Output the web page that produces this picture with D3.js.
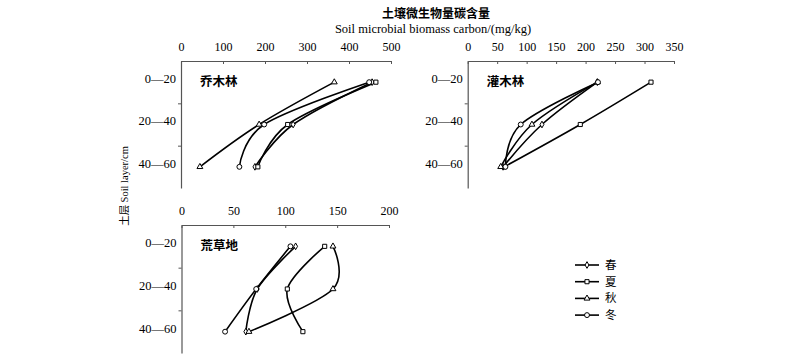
<!DOCTYPE html>
<html>
<head>
<meta charset="utf-8">
<script src="https://cdn.jsdelivr.net/npm/d3@7"></script>
<style>
  body { margin: 0; background: #fff; }
  svg { display: block; }
</style>
</head>
<body>
<div id="chart"></div>
<script>
// ---- data ----
const layers = ["0—20", "20—40", "40—60"];
const layerMid = [10, 30, 50];
const seasons = ["春", "夏", "秋", "冬"];

// rows: 春, 夏, 秋, 冬 ; columns: 0-20, 20-40, 40-60 (mg/kg)
const arborValues = [[455, 267, 176], [464, 254, 183], [365, 186, 45], [448, 198, 139]];
const shrubValues = [[220, 126, 60], [311, 191, 62], [220, 109, 56], [221, 90, 64]];
const grassValues = [[110, 73, 62], [138, 102, 117], [146, 146, 65], [105, 72, 42]];

const panelNames = ["乔木林", "灌木林", "荒草地"];
const xTicksArbor = [0, 100, 200, 300, 400, 500];
const xTicksShrub = [0, 50, 100, 150, 200, 250, 300, 350];
const xTicksGrass = [0, 50, 100, 150, 200];

// ---- layout ----
const width = 800, height = 362;
const serif = "'Liberation Serif', 'DejaVu Serif', serif";
const cjk = "'Noto Sans CJK SC', sans-serif";
const axisColor = "#555";

const svg = d3.select("#chart").append("svg")
  .attr("width", width)
  .attr("height", height);

const panels = [
  { name: panelNames[0], values: arborValues, ticks: xTicksArbor, x0: 181, x1: 391, y0: 61, y1: 188 },
  { name: panelNames[1], values: shrubValues, ticks: xTicksShrub, x0: 467.7, x1: 674, y0: 61, y1: 188 },
  { name: panelNames[2], values: grassValues, ticks: xTicksGrass, x0: 181.5, x1: 389, y0: 225, y1: 353 }
];

const symbolTypes = [d3.symbolDiamond, d3.symbolSquare, d3.symbolTriangle, d3.symbolCircle];
const symbolSizes = [13, 17, 15, 19];

function marker(g, i, x, y) {
  g.append("path")
    .attr("d", d3.symbol().type(symbolTypes[i]).size(symbolSizes[i])())
    .attr("transform", `translate(${x},${y})`)
    .attr("fill", "#fff")
    .attr("stroke", "#000")
    .attr("stroke-width", 1);
}

panels.forEach(p => {
  const g = svg.append("g");
  const x = d3.scaleLinear().domain([0, d3.max(p.ticks)]).range([p.x0, p.x1]);
  const y = d3.scaleLinear().domain([0, 60]).range([p.y0, p.y1]);

  // top x axis, ticks pointing inside
  const xAxis = d3.axisTop(x).tickValues(p.ticks).tickSizeInner(-3).tickSizeOuter(0).tickPadding(10);
  const gx = g.append("g").attr("transform", `translate(0,${p.y0})`).call(xAxis);
  gx.select(".domain").attr("stroke", axisColor).attr("stroke-width", 1.2);
  gx.selectAll(".tick line").attr("stroke", axisColor);
  gx.selectAll(".tick text").attr("font-family", serif).attr("font-size", 12).attr("fill", "#000");

  // left y axis: minor ticks between layers, labels at layer midpoints
  const gy = g.append("g").attr("transform", `translate(${p.x0},0)`)
    .call(d3.axisLeft(y).tickValues([20, 40]).tickSizeInner(3).tickSizeOuter(0).tickFormat(""));
  gy.select(".domain").attr("stroke", axisColor).attr("stroke-width", 1.2);
  gy.selectAll(".tick line").attr("stroke", axisColor);
  g.selectAll(".ylab").data(layers).join("text")
    .attr("x", p.x0 - 5)
    .attr("y", (d, i) => y(layerMid[i]) - 2)
    .attr("text-anchor", "end")
    .attr("dominant-baseline", "middle")
    .attr("font-family", serif)
    .attr("font-size", 12.5)
    .attr("fill", "#000")
    .text(d => d);

  g.append("text")
    .attr("x", p.x0 + 19)
    .attr("y", y(10))
    .attr("dominant-baseline", "middle")
    .attr("font-family", cjk)
    .attr("font-weight", "bold")
    .attr("font-size", 12.5)
    .attr("fill", "#000")
    .text(p.name);

  const line = d3.line()
    .x(d => x(d[0]))
    .y(d => y(d[1]))
    .curve(d3.curveCardinal.tension(0));

  p.values.forEach(vals => {
    const pts = vals.map((v, k) => [v, layerMid[k]]);
    g.append("path")
      .attr("d", line(pts))
      .attr("fill", "none")
      .attr("stroke", "#000")
      .attr("stroke-width", 1.6);
  });
  p.values.forEach((vals, si) => {
    vals.forEach((v, k) => marker(g, si, x(v), y(layerMid[k])));
  });
});

// title
svg.append("text")
  .attr("x", 436).attr("y", 18)
  .attr("text-anchor", "middle")
  .attr("font-family", cjk)
  .attr("font-weight", "bold")
  .attr("font-size", 12)
  .attr("fill", "#000")
  .text("土壤微生物量碳含量");
svg.append("text")
  .attr("x", 433).attr("y", 33)
  .attr("text-anchor", "middle")
  .attr("font-family", serif)
  .attr("font-size", 12.5)
  .attr("fill", "#000")
  .text("Soil microbial biomass carbon/(mg/kg)");

// y axis title
svg.append("text")
  .attr("transform", "translate(128,186) rotate(-90)")
  .attr("text-anchor", "middle")
  .attr("font-size", 10.5)
  .attr("font-family", serif)
  .attr("fill", "#000")
  .call(t => {
    t.append("tspan").attr("font-family", cjk).attr("fill", "#000").text("土层 ");
    t.append("tspan").text("Soil layer/cm");
  });

// legend
const legend = svg.append("g");
seasons.forEach((s, i) => {
  const ly = 265 + i * 16.7;
  legend.append("line")
    .attr("x1", 575).attr("x2", 599)
    .attr("y1", ly).attr("y2", ly)
    .attr("stroke", "#000").attr("stroke-width", 1.6);
  marker(legend, i, 587, ly);
  legend.append("text")
    .attr("x", 605).attr("y", ly + 4)
    .attr("font-family", cjk)
    .attr("font-size", 11.5)
    .attr("fill", "#000")
    .text(s);
});
</script>
</body>
</html>
